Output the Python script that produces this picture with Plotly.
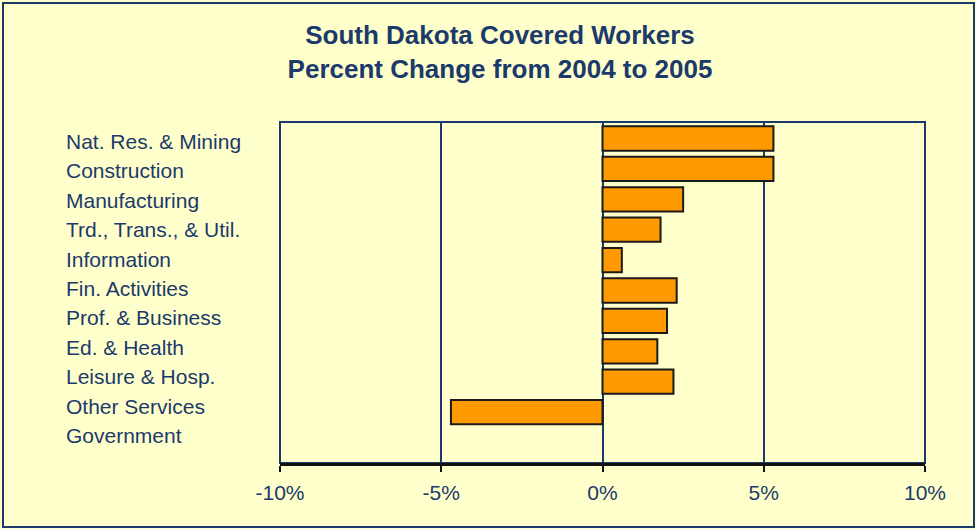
import plotly.graph_objects as go

categories = ["Nat. Res. & Mining", "Construction", "Manufacturing", "Trd., Trans., & Util.",
              "Information", "Fin. Activities", "Prof. & Business", "Ed. & Health",
              "Leisure & Hosp.", "Other Services", "Government"]
pct_change = [5.3, 5.3, 2.5, 1.8, 0.6, 2.3, 2.0, 1.7, 2.2, -4.7, None]
tick_vals = [-10, -5, 0, 5, 10]
tick_text = ["-10%", "-5%", "0%", "5%", "10%"]

NAVY = "#1B3A6B"
BG = "#FFFFCC"
W, H = 976, 529
L, R, T, B = 280, 51, 122, 66
FONT = "Liberation Sans, Arial, sans-serif"

fig = go.Figure()
fig.add_trace(go.Bar(
    y=categories, x=pct_change, orientation="h",
    marker=dict(color="#FF9900", line=dict(color="#1a1a1a", width=2)),
    hoverinfo="x+y",
))

pw = W - L - R
ph = H - T - B

annotations = []
for i, c in enumerate(categories):
    annotations.append(dict(
        x=-(L - 64) / pw, xref="paper", xanchor="left",
        y=c, yref="y", yanchor="middle", yshift=-(3 - i),
        text=c, showarrow=False,
        font=dict(family=FONT, size=21, color=NAVY),
    ))

fig.update_layout(
    width=W, height=H,
    margin=dict(l=L, r=R, t=T, b=B),
    paper_bgcolor=BG, plot_bgcolor=BG,
    showlegend=False, bargap=0.2,
    title=dict(text="<b>South Dakota Covered Workers<br>Percent Change from 2004 to 2005</b>",
               x=500 / W, xanchor="center", y=1 - 44 / H, yanchor="top",
               font=dict(family=FONT, size=26, color=NAVY)),
    annotations=annotations,
)
fig.update_xaxes(range=[-10, 10], tickvals=tick_vals, ticktext=tick_text,
                 showgrid=True, gridcolor=NAVY, gridwidth=1.6, zeroline=False,
                 showline=True, linecolor="#111111", linewidth=2.5, mirror=False,
                 ticks="outside", ticklen=6, tickcolor="#111111", tickwidth=1.8,
                 ticklabelstandoff=3,
                 tickfont=dict(family=FONT, size=21, color=NAVY))
fig.update_yaxes(autorange="reversed", showticklabels=False, showgrid=False, zeroline=False,
                 showline=False)
fig.add_shape(type="rect", xref="paper", yref="paper", x0=0, x1=1, y0=0, y1=1,
              line=dict(color=NAVY, width=2), layer="below")
fig.add_shape(type="rect", xref="paper", yref="paper",
              x0=-(L - 3) / pw, x1=1 + (R - 2) / pw,
              y0=-(B - 2) / ph, y1=1 + (T - 3) / ph,
              line=dict(color=NAVY, width=2), layer="below")
fig.write_html("out.html")
